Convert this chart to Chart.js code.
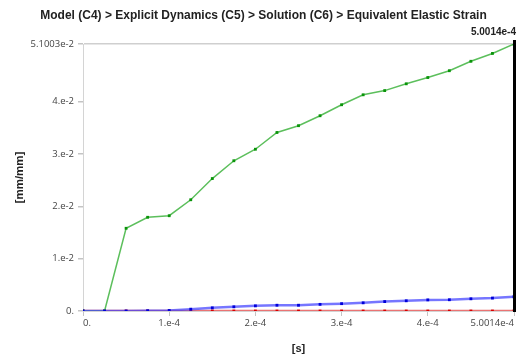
<!DOCTYPE html>
<html>
<head>
<meta charset="utf-8">
<script src="https://cdn.jsdelivr.net/npm/chart.js@4"></script>
<style>
  body { margin: 0; background: #fff; }
  #wrap { width: 518px; height: 356px; }
</style>
</head>
<body>
<div id="wrap"><canvas id="strainChart" width="518" height="356"></canvas></div>
<script>
// time steps [s]
const times = [0, 2.5007e-5, 5.0014e-5, 7.5021e-5, 1.00028e-4, 1.25035e-4, 1.50042e-4,
    1.75049e-4, 2.00056e-4, 2.25063e-4, 2.5007e-4, 2.75077e-4, 3.00084e-4, 3.25091e-4,
    3.50098e-4, 3.75105e-4, 4.00112e-4, 4.25119e-4, 4.50126e-4, 4.75133e-4, 5.0014e-4];

// strain values [mm/mm]
const maxStrain = [0, 0, 1.58e-2, 1.79e-2, 1.82e-2, 2.125e-2, 2.53e-2, 2.87e-2, 3.09e-2, 3.41e-2,
    3.54e-2, 3.73e-2, 3.94e-2, 4.13e-2, 4.21e-2, 4.34e-2, 4.46e-2, 4.59e-2, 4.77e-2, 4.92e-2, 5.1003e-2];
const avgStrain = [0, 0, 0, 5e-5, 1e-4, 3.5e-4, 6e-4, 8e-4, 9.8e-4, 1.1e-3, 1.1e-3, 1.27e-3,
    1.4e-3, 1.56e-3, 1.8e-3, 1.95e-3, 2.12e-3, 2.15e-3, 2.33e-3, 2.47e-3, 2.72e-3];
const minStrain = [0, 0, 0, 0, 0, 0, 0, 0, 0, 0, 0, 0, 0, 0, 0, 0, 0, 0, 0, 0, 0];

// axis ticks
const xTicks = [0, 1e-4, 2e-4, 3e-4, 4e-4, 5.0014e-4];
const xTickLabels = ['0.', '1.e-4', '2.e-4', '3.e-4', '4.e-4', '5.0014e-4'];
const yTicks = [0, 1e-2, 2e-2, 3e-2, 4e-2, 5.1003e-2];
const yTickLabels = ['0.', '1.e-2', '2.e-2', '3.e-2', '4.e-2', '5.1003e-2'];

const cursorTime = 5.0014e-4;
const cursorLabel = '5.0014e-4';

function toPoints(vals) {
    return vals.map(function(v, i) { return { x: times[i], y: v }; });
}

const cursorPlugin = {
    id: 'cursor',
    afterDatasetsDraw: function(chart) {
        const ctx = chart.ctx;
        const area = chart.chartArea;
        const x = chart.scales.x.getPixelForValue(cursorTime);
        ctx.save();
        ctx.strokeStyle = '#000';
        ctx.lineWidth = 3;
        ctx.beginPath();
        ctx.moveTo(x + 0.5, area.top - 4);
        ctx.lineTo(x + 0.5, area.bottom + 1);
        ctx.stroke();
        ctx.fillStyle = '#222';
        ctx.font = 'bold 10px "Liberation Sans", Arial, sans-serif';
        ctx.textAlign = 'right';
        ctx.textBaseline = 'middle';
        ctx.fillText(cursorLabel, x + 2, area.top - 12);
        ctx.restore();
    }
};

const tickFont = { family: '"Open Sans", sans-serif', size: 9.5 };

new Chart(document.getElementById('strainChart').getContext('2d'), {
    type: 'line',
    data: {
        datasets: [{
            label: 'Average',
            data: toPoints(avgStrain),
            borderColor: 'rgba(60, 60, 255, 0.7)',
            borderWidth: 2.5,
            pointStyle: 'rect',
            pointRadius: 2,
            pointBackgroundColor: '#0000d8',
            pointBorderColor: '#0000d8',
            pointBorderWidth: 0
        }, {
            label: 'Maximum',
            data: toPoints(maxStrain),
            borderColor: '#5cbf5c',
            borderWidth: 1.5,
            pointStyle: 'rect',
            pointRadius: 2,
            pointBackgroundColor: '#0a940a',
            pointBorderColor: '#0a940a',
            pointBorderWidth: 0
        }, {
            label: 'Minimum',
            data: toPoints(minStrain),
            borderColor: 'rgba(230, 90, 90, 0.85)',
            borderWidth: 2.5,
            pointStyle: 'rect',
            pointRadius: 2,
            pointBackgroundColor: '#d80000',
            pointBorderColor: '#d80000',
            pointBorderWidth: 0
        }]
    },
    options: {
        responsive: false,
        animation: false,
        layout: { padding: { left: 12, right: 3, top: 0, bottom: 0 } },
        plugins: {
            legend: { display: false },
            tooltip: { enabled: false },
            title: {
                display: true,
                text: 'Model (C4) > Explicit Dynamics (C5) > Solution (C6) > Equivalent Elastic Strain',
                color: '#222',
                font: { family: '"Liberation Sans", Arial, sans-serif', size: 12, weight: 'bold' },
                padding: { top: 8, bottom: 21.6 }
            }
        },
        scales: {
            x: {
                type: 'linear',
                min: 0,
                max: 5.0014e-4,
                afterBuildTicks: function(scale) {
                    scale.ticks = xTicks.map(function(v) { return { value: v }; });
                },
                afterFit: function(scale) { scale.height = 45; },
                ticks: {
                    autoSkip: false,
                    maxRotation: 0,
                    align: 'inner',
                    padding: 2,
                    color: '#444',
                    font: tickFont,
                    callback: function(v) { return xTickLabels[xTicks.indexOf(v)]; }
                },
                grid: { drawOnChartArea: false, tickLength: 5, tickColor: '#c4c4c4' },
                border: { color: '#d4d4d4' },
                title: {
                    display: true,
                    text: '[s]',
                    color: '#222',
                    font: { family: '"Liberation Sans", Arial, sans-serif', size: 11, weight: 'bold' },
                    padding: { top: 0, bottom: 0 }
                }
            },
            y: {
                min: 0,
                max: 5.1003e-2,
                afterBuildTicks: function(scale) {
                    scale.ticks = yTicks.map(function(v) { return { value: v }; });
                },
                afterFit: function(scale) { scale.width = 71; },
                ticks: {
                    autoSkip: false,
                    padding: 4,
                    color: '#444',
                    font: tickFont,
                    callback: function(v) { return yTickLabels[yTicks.indexOf(v)]; }
                },
                grid: {
                    color: function(c) {
                        return c.tick && c.tick.value === 5.1003e-2 ? '#cfcfcf' : 'rgba(0,0,0,0)';
                    },
                    lineWidth: 1.5,
                    tickLength: 5,
                    tickColor: '#c4c4c4'
                },
                border: { color: '#d4d4d4' },
                title: {
                    display: true,
                    text: '[mm/mm]',
                    color: '#222',
                    font: { family: '"Liberation Sans", Arial, sans-serif', size: 11.5, weight: 'bold' },
                    padding: { top: 1, bottom: 0 }
                }
            }
        }
    },
    plugins: [cursorPlugin]
});
</script>
</body>
</html>
